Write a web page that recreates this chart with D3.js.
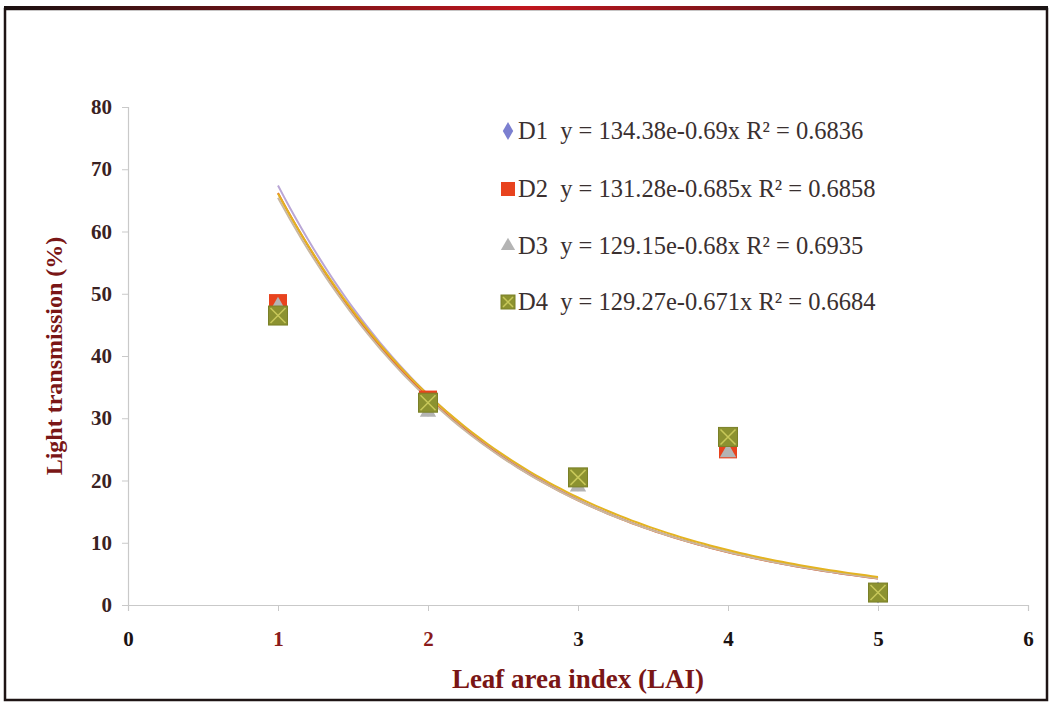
<!DOCTYPE html>
<html>
<head>
<meta charset="utf-8">
<script src="https://d3js.org/d3.v7.min.js"></script>
<style>
  html, body { margin: 0; padding: 0; background: #fff; }
  svg { display: block; }
</style>
</head>
<body>
<svg id="chart" width="1050" height="704"></svg>
<script>
// LAI classes on the x axis
const lai = [1, 2, 3, 4, 5];

// Light transmission (%) for each treatment
const d1 = [48, 32, 20, 26, 2];
const d2 = [48.5, 33, 20.5, 25, 2];
const d3v = [48, 31, 19, 24.5, 2];
const d4 = [46.5, 32.5, 20.5, 27, 2];

// Exponential trend fits y = a·e^(b·x) with their R²
const fitA = [134.38, 131.28, 129.15, 129.27];
const fitB = [-0.69, -0.685, -0.68, -0.671];
const fitR2 = ["0.6836", "0.6858", "0.6935", "0.6684"];
const seriesNames = ["D1", "D2", "D3", "D4"];

const xTicks = [0, 1, 2, 3, 4, 5, 6];
const yTicks = [0, 10, 20, 30, 40, 50, 60, 70, 80];

const seriesValues = [d1, d2, d3v, d4];
const markerShapes = ["diamond", "square", "triangle", "xsquare"];
const markerColors = ["#7b7fd0", "#e8431e", "#b4b4b4", "#8c9230"];
const lineColors = ["#b9a6d6", "#e9642a", "#c9b8a0", "#e3b321"];

const svg = d3.select("#chart");
const W = 1050, H = 704;

// outer frame with a dark-red top rule
const defs = svg.append("defs");
const grad = defs.append("linearGradient").attr("id", "topRule")
  .attr("x1", "0%").attr("x2", "100%");
grad.append("stop").attr("offset", "0%").attr("stop-color", "#1a1010");
grad.append("stop").attr("offset", "50%").attr("stop-color", "#c0161e");
grad.append("stop").attr("offset", "100%").attr("stop-color", "#1a1414");

svg.append("rect").attr("x", 0).attr("y", 0).attr("width", W).attr("height", H).attr("fill", "#fff");
svg.append("rect").attr("x", 5).attr("y", 9).attr("width", 1042).attr("height", 691)
  .attr("fill", "none").attr("stroke", "#1e1414").attr("stroke-width", 2.5);
svg.append("rect").attr("x", 4).attr("y", 6).attr("width", 1044).attr("height", 4)
  .attr("fill", "url(#topRule)");

const x = d3.scaleLinear().domain([0, 6]).range([128, 1028]);
const y = d3.scaleLinear().domain([0, 80]).range([605, 107]);

const serif = "'Liberation Serif', 'Times New Roman', serif";
const axisGray = "#c9c9c9";

// y axis
const yAxis = svg.append("g").attr("transform", `translate(${x(0)},0)`)
  .call(d3.axisLeft(y).tickValues(yTicks).tickFormat(d3.format("d")).tickSize(6).tickPadding(10));
yAxis.select(".domain").attr("stroke", axisGray).attr("stroke-width", 1.2);
yAxis.selectAll(".tick line").attr("stroke", axisGray);
yAxis.selectAll(".tick text")
  .attr("font-family", serif).attr("font-size", 21).attr("font-weight", "bold")
  .attr("fill", "#3a2222");

// x axis
const xAxis = svg.append("g").attr("transform", `translate(0,${y(0)})`)
  .call(d3.axisBottom(x).tickValues(xTicks).tickFormat(d3.format("d")).tickSize(6).tickPadding(20));
xAxis.select(".domain").attr("stroke", axisGray).attr("stroke-width", 1.2);
xAxis.selectAll(".tick line").attr("stroke", axisGray);
xAxis.selectAll(".tick text")
  .attr("font-family", serif).attr("font-size", 21).attr("font-weight", "bold")
  .attr("fill", d => (d === 1 || d === 2) ? "#8a1a1a" : "#1a1212");

// axis titles
svg.append("text")
  .attr("transform", `translate(62,${(y(0) + y(80)) / 2}) rotate(-90)`)
  .attr("text-anchor", "middle")
  .attr("font-family", serif).attr("font-size", 24).attr("font-weight", "bold")
  .attr("fill", "#7a1616")
  .text("Light transmission (%)");

svg.append("text")
  .attr("x", 578).attr("y", 688)
  .attr("text-anchor", "middle")
  .attr("font-family", serif).attr("font-size", 27).attr("font-weight", "bold")
  .attr("fill", "#7a1616")
  .text("Leaf area index (LAI)");

// exponential trend lines over the observed LAI range
const line = d3.line().x(d => x(d[0])).y(d => y(d[1])).curve(d3.curveLinear);
const xsFit = d3.range(0, 101).map(i => lai[0] + (lai[lai.length - 1] - lai[0]) * i / 100);
fitA.forEach((a, i) => {
  const pts = xsFit.map(v => [v, a * Math.exp(fitB[i] * v)]);
  svg.append("path").datum(pts)
    .attr("fill", "none")
    .attr("stroke", lineColors[i])
    .attr("stroke-width", 2)
    .attr("d", line);
});

// markers
function drawMarker(g, shape, color, cx, cy, s) {
  if (shape === "diamond") {
    g.append("path")
      .attr("d", d3.symbol().type(d3.symbolDiamond).size(s * s * 0.55)())
      .attr("transform", `translate(${cx},${cy})`).attr("fill", color);
  } else if (shape === "square") {
    g.append("rect").attr("x", cx - s / 2).attr("y", cy - s / 2)
      .attr("width", s).attr("height", s).attr("fill", color);
  } else if (shape === "triangle") {
    g.append("path")
      .attr("d", d3.symbol().type(d3.symbolTriangle).size(s * s * 0.45)())
      .attr("transform", `translate(${cx},${cy})`).attr("fill", color);
  } else {
    g.append("rect").attr("x", cx - s / 2).attr("y", cy - s / 2)
      .attr("width", s).attr("height", s).attr("fill", color)
      .attr("stroke", "#7a8028").attr("stroke-width", 1);
    g.append("path")
      .attr("d", `M${cx - s / 2 + 2},${cy - s / 2 + 2}L${cx + s / 2 - 2},${cy + s / 2 - 2}M${cx + s / 2 - 2},${cy - s / 2 + 2}L${cx - s / 2 + 2},${cy + s / 2 - 2}`)
      .attr("stroke", "#c8c85a").attr("stroke-width", 1.5);
  }
}

const marks = svg.append("g");
seriesValues.forEach((vals, i) => {
  vals.forEach((v, j) => {
    const s = i === 1 ? 18 : (i === 3 ? 19 : 16);
    drawMarker(marks, markerShapes[i], markerColors[i], x(lai[j]), y(v), s);
  });
});

// legend
const legendRows = [131, 189, 246, 302];
const legend = svg.append("g");
seriesNames.forEach((name, i) => {
  const cy = legendRows[i];
  const s = i === 0 ? 13 : 14;
  drawMarker(legend, markerShapes[i], markerColors[i], 508, cy, s);
  const bTxt = String(fitB[i]);
  legend.append("text")
    .attr("x", 518).attr("y", cy + 8)
    .attr("font-family", serif).attr("font-size", 24.5)
    .attr("fill", "#3a3030")
    .attr("xml:space", "preserve")
    .text(`${name}  y = ${fitA[i].toFixed(2)}e${bTxt}x R² = ${fitR2[i]}`);
});
</script>
</body>
</html>
